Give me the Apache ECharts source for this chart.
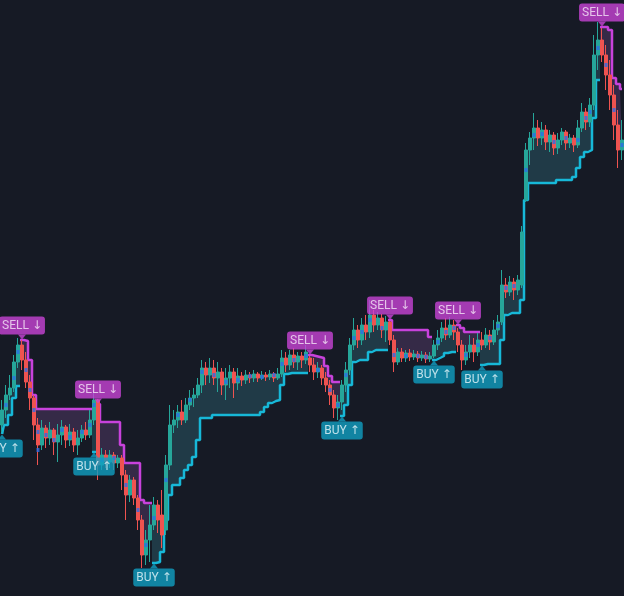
<!DOCTYPE html>
<html><head><meta charset="utf-8">
<script src="https://cdn.jsdelivr.net/npm/echarts@6/dist/echarts.min.js"></script>
<style>html,body{margin:0;padding:0;background:#161a25;overflow:hidden}#c{width:624px;height:596px}</style>
</head><body><div id="c"></div>
<script>
// candles: [open, close, low, high]
const candles = [
[175,190,168,200],[190,205,182,215],[205,212,200,225],[212,238,208,245],[238,255,232,262],
[255,240,230,260],[240,218,212,248],[218,202,190,225],[202,175,160,205],[175,155,135,182],
[155,172,150,180],[172,162,152,175],[162,170,155,178],[170,158,145,172],[158,165,138,176],
[165,173,155,180],[173,160,152,175],[160,168,154,176],[168,155,148,172],[155,162,145,170],
[162,170,158,175],[170,165,160,178],[165,180,162,190],[180,200,175,208],[200,135,120,201],
[135,145,130,152],[145,138,132,150],[138,145,132,150],[145,137,130,148],[137,142,132,145],
[142,125,110,145],[125,105,80,130],[105,120,98,125],[120,102,95,123],[102,80,70,105],
[80,45,32,85],[45,60,35,70],[60,75,38,95],[75,95,70,103],[95,80,67,100],
[85,65,52,110],[70,135,65,145],[135,175,130,195],[175,180,167,190],[180,188,172,195],
[188,180,175,200],[180,195,177,202],[195,202,190,210],[202,205,193,212],[205,215,202,222],
[215,232,207,240],[232,225,215,238],[225,232,217,242],[232,222,215,240],[222,228,208,238],
[228,215,205,232],[215,222,200,232],[222,228,212,235],[228,217,202,232],[217,224,210,232],
[224,220,214,228],[220,225,216,230],[225,222,217,228],[222,226,218,230],[226,222,218,228],
[222,225,220,229],[225,223,219,228],[223,226,220,230],[226,222,218,228],[222,226,220,232],
[226,242,223,250],[242,235,228,248],[235,245,230,250],[245,238,232,252],[238,244,230,248],
[244,240,232,248],[240,248,236,255],[242,235,228,244],[235,228,220,242],[228,232,222,238],
[232,222,215,235],[222,215,208,228],[215,205,195,220],[205,192,182,210],[192,198,180,205],
[198,215,190,220],[215,230,208,238],[230,255,225,262],[255,270,250,282],[270,260,252,275],
[260,275,255,282],[275,268,260,285],[268,285,262,300],[285,275,268,290],[275,282,270,288],
[282,270,262,286],[270,278,258,284],[278,260,255,279],[260,238,228,265],[238,248,235,252],
[248,242,238,252],[242,247,238,250],[247,243,239,251],[243,246,240,250],[246,242,238,249],
[242,245,239,249],[245,241,237,248],[241,244,238,248],[244,255,242,260],[255,262,250,270],
[262,272,258,278],[272,265,260,282],[265,275,262,283],[275,268,260,280],[268,255,248,272],
[255,240,230,260],[240,248,235,255],[248,255,242,265],[255,248,238,262],[248,260,244,267],
[260,255,250,268],[255,265,252,272],[265,258,250,270],[258,270,255,280],[270,278,265,285],
[278,315,275,330],[315,308,302,322],[308,318,304,324],[318,310,300,322],[310,320,305,325],
[315,368,312,374],[400,450,398,457],[450,462,435,468],[462,472,450,487],[472,462,454,480],
[462,470,455,478],[470,458,450,475],[458,465,448,470],[465,452,445,468],[452,460,446,467],
[460,468,455,472],[468,457,450,470],[457,462,452,466],[462,455,448,465],[455,472,452,480],
[472,488,468,497],[488,478,470,492],[478,495,473,502],[495,545,490,565],[545,560,530,578],
[560,545,538,572],[545,525,510,555],[525,505,490,540],[505,475,460,515],[475,450,432,490],
[450,460,440,480]
];
// SuperTrend line while in a downtrend (upper band)
const upperBand = [
null,null,null,null,null,
260,259,240,205,191,191,191,191,191,191,191,191,191,191,191,191,191,191,
null,
196,178,178,178,178,178,155,137,137,137,137,100,97,97,
null,null,null,null,null,null,null,null,null,null,null,null,null,null,null,null,null,null,null,null,
null,null,null,null,null,null,null,null,null,null,null,null,null,null,null,null,null,null,null,
245,244,243,242,234,224,218,218,
null,null,null,null,null,null,null,null,null,null,null,null,
280,270,270,270,270,270,270,270,270,270,263,
null,null,null,null,null,null,
275,272,268,268,268,268,
null,null,null,null,null,null,null,null,null,null,null,null,null,null,null,
null,null,null,null,null,null,null,null,null,null,null,null,null,null,null,
573,573,570,522,516,511
];
// SuperTrend line while in an uptrend (lower band)
const lowerBand = [
166,175,185,202,214,
null,null,null,null,null,null,null,null,null,null,null,null,null,null,null,null,null,null,
148,
null,null,null,null,null,null,null,null,null,null,null,null,null,null,
37,38,48,80,105,115,115,122,130,135,143,160,182,182,182,
185,185,185,185,185,185,185,185,185,185,185,185,
188,193,197,199,200,215,226,227,227,227,227,227,
null,null,null,null,null,null,null,null,
184,195,215,238,240,240,240,248,250,250,250,250,
null,null,null,null,null,null,null,null,null,null,null,
240,242,244,247,248,248,
null,null,null,null,null,null,
235,236,236,236,236,260,285,287,287,287,300,400,
417,417,417,417,417,417,417,420,420,420,420,423,432,443,448,450,482,520,
null,null,null,null,null,null
];
const buySignals = [[0,166],[23,148],[38,37],[85,184],[108,240],[120,235]];
const sellSignals = [[5,260],[24,196],[77,245],[97,280],[114,275],[150,573]];
const blueMarks = [[1,195],[3,222],[4,248],[6,230],[7,210],[8,190],[9,168],[9,150],[11,165],[13,160],
[15,170],[17,163],[20,168],[22,175],[23,195],[25,140],[28,142],[31,115],[34,90],[36,55],[38,82],
[41,120],[44,185],[47,200],[50,228],[53,225],[56,218],[59,220],[62,224],[65,223],[68,225],[70,236],
[73,240],[76,244],[79,230],[82,210],[84,195],[86,225],[88,262],[90,268],[92,280],[95,272],[98,245],
[101,244],[104,244],[106,243],[109,258],[111,268],[113,272],[116,245],[119,255],[122,262],[124,274],
[126,312],[128,314],[131,430],[133,465],[135,466],[138,458],[141,462],[144,460],[146,482],[147,488],
[149,552],[151,535],[153,490],[155,455]];

const categories = candles.map((_, i) => 'B' + i);
const mid = candles.map(d => (d[0] + d[1] + d[2] + d[3]) / 4);
const dnBase = upperBand.map((u, i) => u == null ? null : Math.min(mid[i], u));
const dnDiff = upperBand.map((u, i) => u == null ? null : Math.max(0, u - mid[i]));
const upBase = lowerBand.map((l, i) => l == null ? null : Math.min(mid[i], l));
const upDiff = lowerBand.map((l, i) => l == null ? null : Math.max(0, mid[i] - l));

const chart = echarts.init(document.getElementById('c'), null, {renderer: 'canvas'});
const hidden = {type: 'line', symbol: 'none', step: 'middle', lineStyle: {opacity: 0}, silent: true, animation: false};
const labelBase = {show: true, distance: 0, fontSize: 12, fontFamily: 'Roboto, "DejaVu Sans", sans-serif',
  padding: [3, 3, 2, 3], borderRadius: 3, lineHeight: 13};
chart.setOption({
  backgroundColor: '#161a25',
  animation: false,
  grid: {left: 0, right: 0, top: 0, bottom: 0},
  xAxis: {type: 'category', data: categories, show: false, boundaryGap: true},
  yAxis: {type: 'value', min: 4, max: 600, show: false},
  series: [
    Object.assign({}, hidden, {name: 'dnBase', data: dnBase, stack: 'dn'}),
    Object.assign({}, hidden, {name: 'dnFill', data: dnDiff, stack: 'dn', areaStyle: {color: '#352a47', opacity: 1}}),
    Object.assign({}, hidden, {name: 'upBase', data: upBase, stack: 'up'}),
    Object.assign({}, hidden, {name: 'upFill', data: upDiff, stack: 'up', areaStyle: {color: '#203a47', opacity: 1}}),
    {type: 'line', name: 'upper', data: upperBand, symbol: 'none', step: 'middle', silent: true, z: 3,
     lineStyle: {color: '#c842dc', width: 2.5}},
    {type: 'line', name: 'lower', data: lowerBand, symbol: 'none', step: 'middle', silent: true, z: 3,
     lineStyle: {color: '#17b8d8', width: 2.5}},
    {type: 'candlestick', name: 'price', data: candles, barWidth: 3, z: 4, silent: true,
     itemStyle: {color: '#26a69a', color0: '#ef5350', borderColor: '#26a69a', borderColor0: '#ef5350', borderWidth: 1}},
    {type: 'scatter', name: 'blue', data: blueMarks, symbol: 'rect', symbolSize: [3, 4], z: 5, silent: true,
     itemStyle: {color: '#2c6de6'}},
    {type: 'scatter', name: 'sell', data: sellSignals, symbol: 'triangle', symbolRotate: 180,
     symbolSize: [8, 5], symbolOffset: [0, -3], z: 10, silent: true,
     itemStyle: {color: '#c843d6'},
     label: Object.assign({}, labelBase, {position: 'top', formatter: 'SELL ↓', backgroundColor: '#c843d6', color: '#f5e6f8'})},
    {type: 'scatter', name: 'buy', data: buySignals, symbol: 'triangle',
     symbolSize: [8, 5], symbolOffset: [0, 3], z: 10, silent: true,
     itemStyle: {color: '#109fc2'},
     label: Object.assign({}, labelBase, {position: 'bottom', formatter: 'BUY ↑', backgroundColor: '#109fc2', color: '#e8f7fb'})}
  ]
});
</script></body></html>
